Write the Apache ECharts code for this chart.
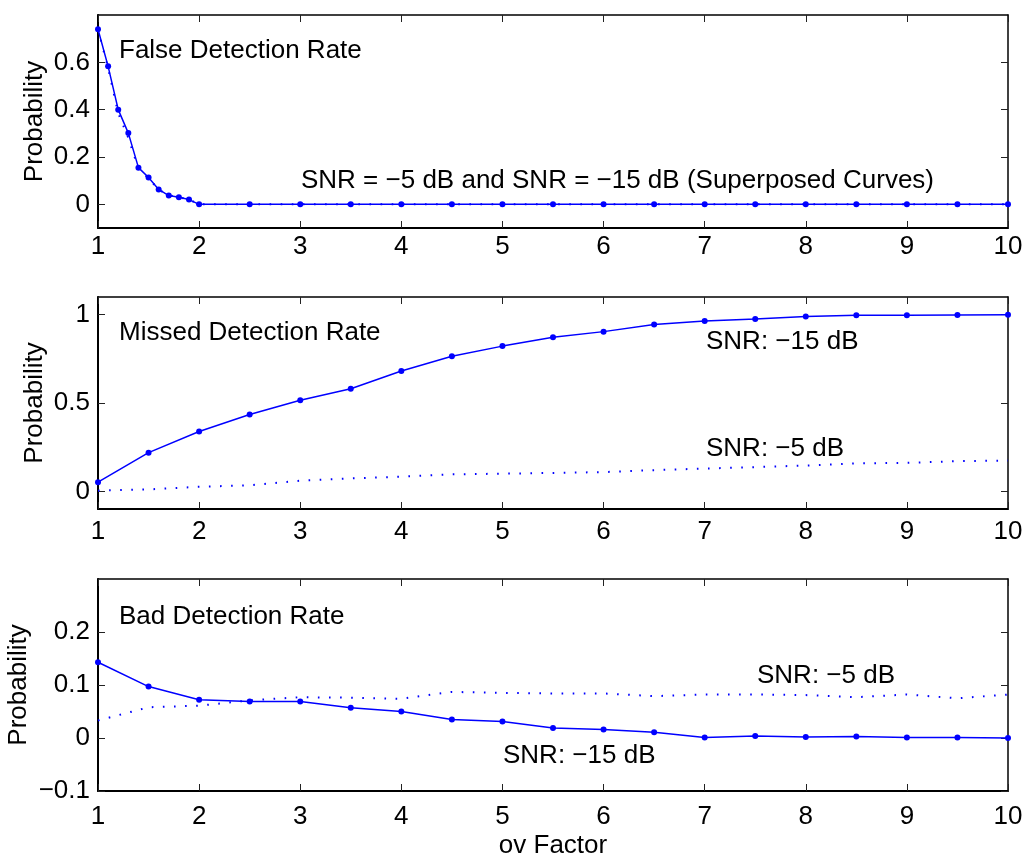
<!DOCTYPE html>
<html>
<head>
<meta charset="utf-8">
<title>Detection rates vs ov Factor</title>
<script src="https://cdn.jsdelivr.net/npm/echarts@6/dist/echarts.min.js"></script>
<style>
  html, body { margin: 0; padding: 0; background: #fff; }
  #chart { width: 1026px; height: 856px; }
</style>
</head>
<body>
<div id="chart"></div>
<script>
// ov factor sampling: fine grid below 2, then half steps
const xFine = [1, 1.1, 1.2, 1.3, 1.4, 1.5, 1.6, 1.7, 1.8, 1.9, 2,
  2.5, 3, 3.5, 4, 4.5, 5, 5.5, 6, 6.5, 7, 7.5, 8, 8.5, 9, 9.5, 10];
const xCoarse = [1, 1.5, 2, 2.5, 3, 3.5, 4, 4.5, 5, 5.5, 6, 6.5, 7, 7.5, 8, 8.5, 9, 9.5, 10];

// False detection rate (both SNRs nearly identical)
const falseSnr15 = [0.740, 0.583, 0.400, 0.301, 0.155, 0.113, 0.063, 0.037, 0.030, 0.020, 0,
  0, 0, 0, 0, 0, 0, 0, 0, 0, 0, 0, 0, 0, 0, 0, 0];
const falseSnr5 = [0.740, 0.575, 0.385, 0.280, 0.150, 0.110, 0.062, 0.038, 0.030, 0.020, 0,
  0, 0, 0, 0, 0, 0, 0, 0, 0, 0, 0, 0, 0, 0, 0, 0];

// Missed detection rate
const missedSnr15 = [0.052, 0.219, 0.339, 0.435, 0.516, 0.581, 0.681, 0.765, 0.822, 0.872,
  0.904, 0.944, 0.964, 0.975, 0.990, 0.996, 0.996, 0.998, 1.000];
const missedSnr5 = [0.004, 0.011, 0.026, 0.034, 0.060, 0.073, 0.083, 0.096, 0.100, 0.104,
  0.109, 0.120, 0.129, 0.137, 0.146, 0.158, 0.161, 0.171, 0.174];

// Bad detection rate
const badSnr15 = [0.143, 0.097, 0.072, 0.069, 0.069, 0.057, 0.050, 0.035, 0.031, 0.019,
  0.016, 0.011, 0.001, 0.004, 0.002, 0.003, 0.001, 0.001, 0.000];
const badSnr5 = [0.033, 0.058, 0.061, 0.071, 0.077, 0.076, 0.074, 0.087, 0.085, 0.084,
  0.084, 0.079, 0.082, 0.082, 0.081, 0.077, 0.082, 0.075, 0.082];

// Tick values
const xTicks = [1, 2, 3, 4, 5, 6, 7, 8, 9, 10];
const yTicksFalse = [0, 0.2, 0.4, 0.6];
const yTicksMissed = [0, 0.5, 1];
const yTicksBad = [-0.1, 0, 0.1, 0.2];

// Annotation texts
const panelTitles = ['False Detection Rate', 'Missed Detection Rate', 'Bad Detection Rate'];
const noteSuperposed = 'SNR = \u22125 dB and SNR = \u221215 dB (Superposed Curves)';
const noteSnr15 = 'SNR: \u221215 dB';
const noteSnr5 = 'SNR: \u22125 dB';
const yTitle = 'Probability';
const xTitle = 'ov Factor';

const FONT = '"Liberation Sans", Arial, Helvetica, sans-serif';
const FS = 26;
const BLUE = '#0000ff';

const pairs = (xs, ys) => xs.map((x, i) => [x, ys[i]]);
const fmt = v => String(Math.round(v * 10) / 10).replace('-', '\u2212');

// fixed panel boxes; labels may extend past the canvas-safe area without moving them
const grids = [
  { left: 98, right: 18, top: 15, height: 213, outerBoundsMode: 'none', containLabel: false },
  { left: 98, right: 18, top: 297, height: 212, outerBoundsMode: 'none', containLabel: false },
  { left: 98, right: 18, top: 579, height: 212, outerBoundsMode: 'none', containLabel: false }
];
const yRanges = [
  { min: -0.1, max: 0.8, ticks: yTicksFalse, gap: 50 },
  { min: -0.1, max: 1.1, ticks: yTicksMissed, gap: 50 },
  { min: -0.1, max: 0.3, ticks: yTicksBad, gap: 66 }
];
const xLabelMargins = [6, 10, 13];

const tickStyle = { show: true, inside: true, length: 7, lineStyle: { color: '#222', width: 1 } };
const labelStyle = { color: '#000', fontFamily: FONT, fontSize: FS };

const xAxes = [], yAxes = [];
grids.forEach((g, i) => {
  // bottom axis with labels
  xAxes.push({
    type: 'value', gridIndex: i, position: 'bottom', min: 1, max: 10, interval: 1,
    axisLine: { show: true, onZero: false, lineStyle: { color: '#000', width: 2 } },
    axisTick: Object.assign({}, tickStyle, { customValues: xTicks }),
    axisLabel: Object.assign({}, labelStyle, { margin: xLabelMargins[i], customValues: xTicks }),
    splitLine: { show: false },
    name: i === 2 ? xTitle : '', nameLocation: 'middle', nameGap: 42,
    nameTextStyle: labelStyle
  });
  // top frame edge
  xAxes.push({
    type: 'value', gridIndex: i, position: 'top', min: 1, max: 10, interval: 1,
    axisLine: { show: true, onZero: false, lineStyle: { color: '#000', width: 1.5 } },
    axisTick: Object.assign({}, tickStyle, { customValues: xTicks }),
    axisLabel: { show: false },
    splitLine: { show: false }
  });
  const r = yRanges[i];
  yAxes.push({
    type: 'value', gridIndex: i, position: 'left', min: r.min, max: r.max,
    axisLine: { show: true, onZero: false, lineStyle: { color: '#000', width: 2 } },
    axisTick: Object.assign({}, tickStyle, { customValues: r.ticks }),
    axisLabel: Object.assign({}, labelStyle, { margin: 8, customValues: r.ticks, formatter: fmt }),
    splitLine: { show: false },
    name: yTitle, nameLocation: 'middle', nameGap: r.gap, nameRotate: 90,
    nameMoveOverlap: false,
    nameTextStyle: labelStyle
  });
  yAxes.push({
    type: 'value', gridIndex: i, position: 'right', min: r.min, max: r.max,
    axisLine: { show: true, onZero: false, lineStyle: { color: '#000', width: 1.5 } },
    axisTick: Object.assign({}, tickStyle, { customValues: r.ticks }),
    axisLabel: { show: false },
    splitLine: { show: false }
  });
});

function dotted(i, data) {
  return {
    type: 'line', xAxisIndex: 2 * i, yAxisIndex: 2 * i, data: data,
    showSymbol: false, symbol: 'none', silent: true,
    lineStyle: { color: BLUE, width: 2, type: [1.6, 9.5] }, z: 2
  };
}
function solid(i, data) {
  return {
    type: 'line', xAxisIndex: 2 * i, yAxisIndex: 2 * i, data: data,
    symbol: 'circle', symbolSize: 6, showSymbol: true, silent: true,
    itemStyle: { color: BLUE },
    lineStyle: { color: BLUE, width: 1.5 }, z: 3
  };
}

const series = [
  dotted(0, pairs(xFine, falseSnr5)),
  solid(0, pairs(xFine, falseSnr15)),
  dotted(1, pairs(xCoarse, missedSnr5)),
  solid(1, pairs(xCoarse, missedSnr15)),
  dotted(2, pairs(xCoarse, badSnr5)),
  solid(2, pairs(xCoarse, badSnr15))
];

function note(text, x, y) {
  return {
    type: 'text', x: x, y: y, silent: true, z: 10,
    style: { text: text, font: FS + 'px ' + FONT, fill: '#000', verticalAlign: 'top', align: 'left' }
  };
}

const graphic = [
  note(panelTitles[0], 119, 38),
  note(noteSuperposed, 301, 168),
  note(panelTitles[1], 119, 320),
  note(noteSnr15, 706, 329),
  note(noteSnr5, 706, 436),
  note(panelTitles[2], 119, 604),
  note(noteSnr5, 757, 663),
  note(noteSnr15, 503, 743)
];

const chart = echarts.init(document.getElementById('chart'), null, { renderer: 'canvas' });
chart.setOption({
  animation: false,
  backgroundColor: '#fff',
  grid: grids,
  xAxis: xAxes,
  yAxis: yAxes,
  series: series,
  graphic: graphic
});
</script>
</body>
</html>
